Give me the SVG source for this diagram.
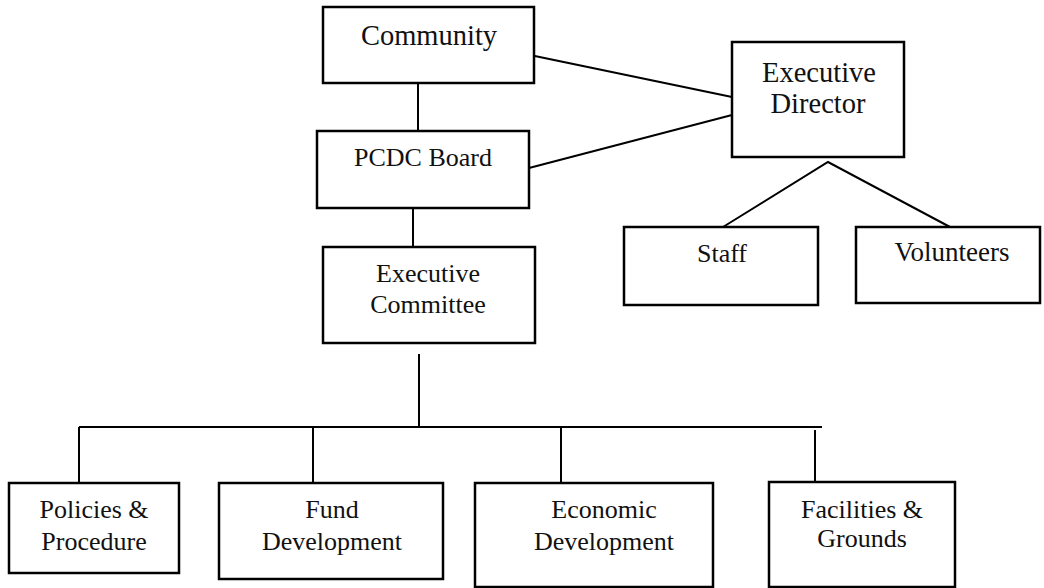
<svg xmlns="http://www.w3.org/2000/svg" width="1044" height="588" viewBox="0 0 1044 588">
<style>
.box{fill:#fff;stroke:#000;stroke-width:2.5}
.c line,.c polyline{stroke:#000;stroke-width:2;fill:none}
text{font-family:"Liberation Serif","Times New Roman",serif;font-size:26px;fill:#111;text-anchor:middle}
.big{font-size:28.5px}
</style>
<rect width="1044" height="588" fill="#fff"/>
<g class="c" id="connectors">
<line x1="418" y1="83" x2="418" y2="131"/>
<line x1="530" y1="55" x2="732" y2="97"/>
<line x1="529" y1="168" x2="732" y2="115"/>
<line x1="413" y1="208" x2="413" y2="247"/>
<polyline points="723,227 828,162 950,227"/>
<line x1="419" y1="354" x2="419" y2="427"/>
<line x1="79" y1="427" x2="822" y2="427"/>
<line x1="79" y1="427" x2="79" y2="483"/>
<line x1="313" y1="427" x2="313" y2="483"/>
<line x1="561" y1="427" x2="561" y2="483"/>
<line x1="815" y1="430" x2="815" y2="482"/>
</g>
<g id="community"><rect class="box" x="323" y="7" width="211" height="76"/><text class="big" x="429" y="45">Community</text></g>
<g id="pcdc-board"><rect class="box" x="317" y="131" width="212" height="77"/><text x="423" y="166">PCDC Board</text></g>
<g id="executive-director"><rect class="box" x="732" y="42" width="172" height="115"/><text class="big" x="819" y="82">Executive</text><text class="big" x="818" y="113">Director</text></g>
<g id="staff"><rect class="box" x="624" y="227" width="194" height="78"/><text x="722" y="262">Staff</text></g>
<g id="volunteers"><rect class="box" x="856" y="227" width="184" height="76"/><text x="952" y="261" style="font-size:27px">Volunteers</text></g>
<g id="executive-committee"><rect class="box" x="323" y="247" width="212" height="96"/><text x="428" y="282">Executive</text><text x="428" y="313">Committee</text></g>
<g id="policies"><rect class="box" x="9" y="483" width="170" height="90"/><text x="94" y="518">Policies &amp;</text><text x="94" y="550">Procedure</text></g>
<g id="fund"><rect class="box" x="219" y="483" width="224" height="96"/><text x="332" y="518">Fund</text><text x="332" y="550">Development</text></g>
<g id="economic"><rect class="box" x="475" y="483" width="238" height="104"/><text x="604" y="518">Economic</text><text x="604" y="550">Development</text></g>
<g id="facilities"><rect class="box" x="769" y="482" width="186" height="105"/><text x="862" y="518">Facilities &amp;</text><text x="862" y="547">Grounds</text></g>
</svg>
